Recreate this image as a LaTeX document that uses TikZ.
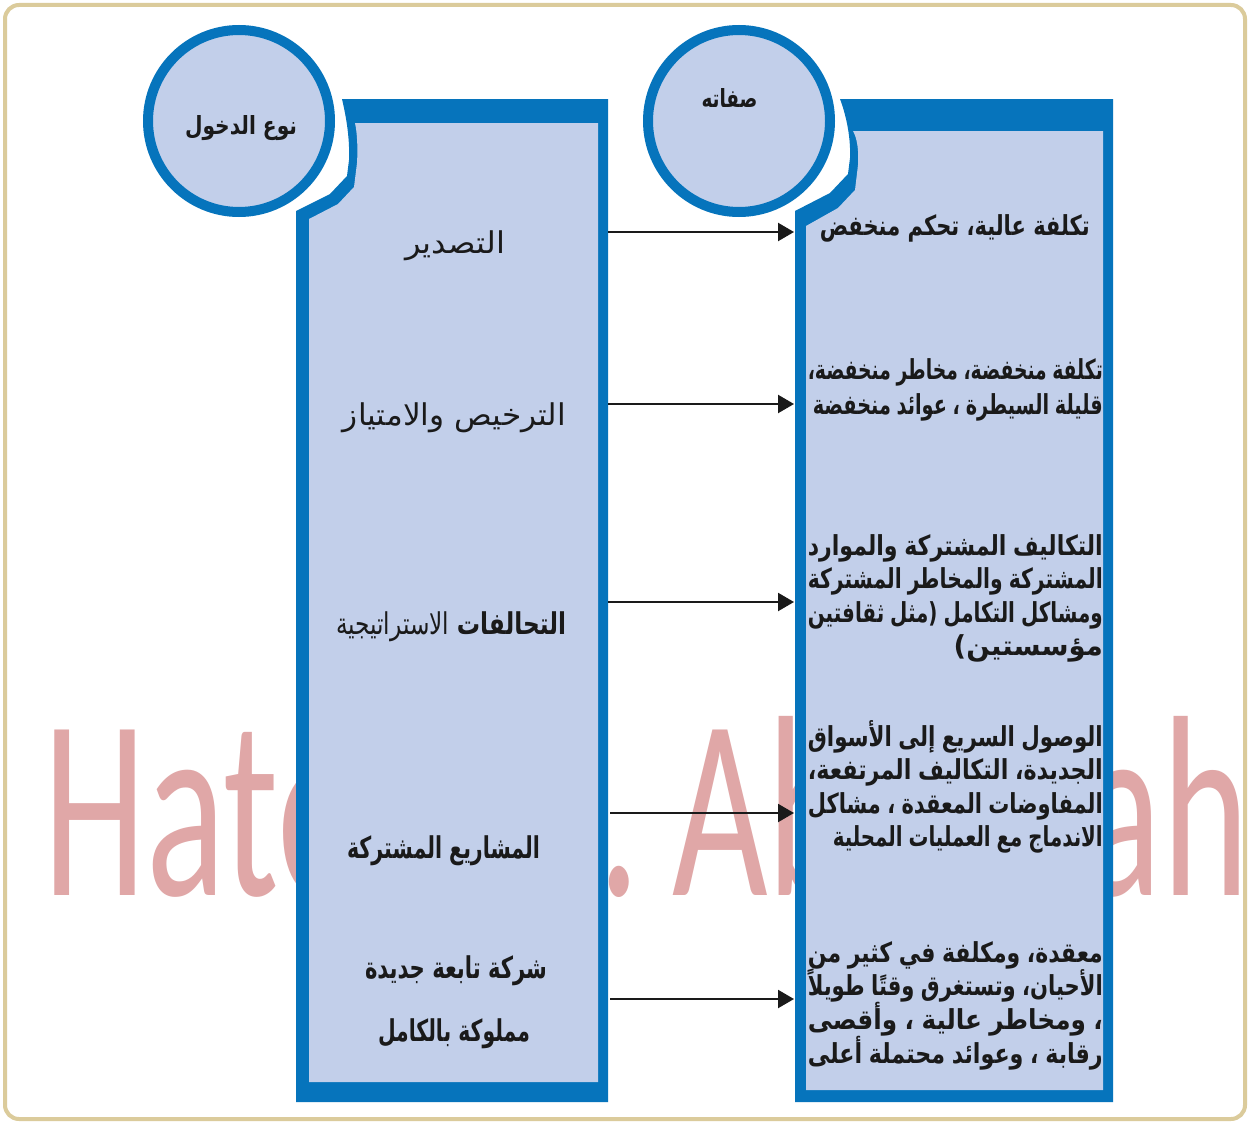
\documentclass[tikz,border=0pt]{standalone}
\usepackage{fontspec}
\usepackage{graphicx}
\usetikzlibrary{arrows.meta}
\TeXXeTstate=1
\newfontfamily\arabicfont[Script=Arabic]{DejaVu Sans}
\newfontfamily\wmfont{Carlito}

\definecolor{panelblue}{HTML}{0674BC}
\definecolor{panelfill}{HTML}{C2CFEA}
\definecolor{framecol}{HTML}{DBCB9B}
\definecolor{wmpink}{HTML}{E0A7A7}
\definecolor{ink}{HTML}{1A1A1A}

% right-to-left run
\newcommand\RL[1]{\beginR #1\endR}
% stretchable word space
\newcommand\wsp{\hskip 0.3em plus 1fill\relax}
\newsavebox\jbox
% line set to an exact width: squeezed if too long, spread if too short
\newcommand\jl[2]{\sbox\jbox{\RL{#2}}\ifdim\wd\jbox>#1\relax\resizebox{#1}{\height}{\usebox\jbox}\else\hbox to #1{\RL{#2}}\fi}
% one line of a description block, flush right in the block
\newcommand\dline[2]{\hbox to 295pt{\hfill\jl{#1}{#2}}}
% single label scaled to a given width
\newcommand\fitw[2]{\resizebox{#1}{\height}{\RL{#2}}}

\tikzset{
  kind/.style={inner sep=0pt, anchor=base, text=ink, font=\arabicfont\fontsize{30}{34}\selectfont},
  kindb/.style={kind, font=\arabicfont\bfseries\fontsize{30}{34}\selectfont},
  desc/.style={inner sep=0pt, anchor=base east, text=ink, font=\arabicfont\bfseries\fontsize{27.5}{30}\selectfont},
  head/.style={inner sep=0pt, anchor=base, text=ink, font=\arabicfont\bfseries\fontsize{25}{28}\selectfont},
  wm/.style={inner sep=0pt, anchor=base west, text=wmpink, font=\wmfont\fontsize{258}{258}\selectfont},
  ring/.style={draw=panelblue, fill=panelfill, line width=10pt},
  conn/.style={draw=ink, line width=2.2pt, -{Triangle[length=16pt,width=18pt]}},
}

\begin{document}
\begin{tikzpicture}[x=1pt,y=-1pt]
\useasboundingbox (0,0) rectangle (1250,1124);
\fill[white] (0,0) rectangle (1250,1124);
\draw[framecol, line width=4pt, rounded corners=14pt] (5,5) rectangle (1245,1119);

% watermark
\node[wm] (wmA) at (43,895) {\scalebox{0.64}[1]{Hate}};
\node[wm] (wmB) at (598,895) {\scalebox{0.64}[1]{.}};
\node[wm] (wmC) at (672,895) {\scalebox{0.64}[1]{Ab}};
\node[wm, anchor=base east] (wmD) at (1249,895) {\scalebox{0.64}[1]{ah}};

% heading circles
\draw[ring] (239,121) circle[radius=91];
\draw[ring] (739,121) circle[radius=91];

% left panel
\fill[panelblue] (342,99) -- (608,99) -- (608,1102) -- (296,1102) -- (296,211)
  -- (330,194) -- (347,176) -- (349,160) .. controls (350,135) and (345,112) .. (342,99) -- cycle;
\fill[panelfill] (355,123) -- (598,123) -- (598,1082) -- (309,1082) -- (309,219)
  -- (338,204) -- (354,187) -- (357,163) .. controls (358,147) and (357,132) .. (355,123) -- cycle;

% right panel
\fill[panelblue] (840,99) -- (1113,99) -- (1113,1102) -- (795,1102) -- (795,211)
  -- (830,193) -- (848,174) -- (850,158) .. controls (851,135) and (845,112) .. (840,99) -- cycle;
\fill[panelfill] (853,131) -- (1103,131) -- (1103,1090) -- (806,1090) -- (806,226)
  -- (838,208) -- (855,190) -- (858,165) .. controls (859,150) and (857,138) .. (853,131) -- cycle;

% circle headings
\node[head] (hk) at (241,134) {\fitw{112pt}{نوع الدخول}};
\node[head] (hd) at (729.5,107) {\fitw{56pt}{صفاته}};

% entry modes
\node[kind] (k1) at (455,253) {\fitw{100pt}{التصدير}};
\node[kind] (k2) at (454.5,425) {\fitw{223pt}{الترخيص والامتياز}};
\node[kind] (k3) at (451,634) {\fitw{230pt}{{\bfseries التحالفات} الاستراتيجية}};
\node[kindb] (k4) at (443.5,858) {\fitw{193pt}{المشاريع المشتركة}};
\node[kindb] (k5) at (456,978) {\fitw{182pt}{شركة تابعة جديدة}};
\node[kindb] (k6) at (454,1041) {\fitw{152pt}{مملوكة بالكامل}};

% characteristics
\node[desc] (d1) at (1090,235) {\fitw{270pt}{تكلفة عالية، تحكم منخفض}};
\node[desc] (d2) at (1103,379) {\vtop{\baselineskip=35pt\lineskiplimit=-1000pt
  \dline{295pt}{تكلفة\wsp منخفضة،\wsp مخاطر\wsp منخفضة،}
  \dline{290pt}{قليلة\wsp السيطرة\wsp ،\wsp عوائد\wsp منخفضة}}};
\node[desc] (d3) at (1103,555) {\vtop{\baselineskip=33.5pt\lineskiplimit=-1000pt
  \dline{295pt}{التكاليف\wsp المشتركة\wsp والموارد}
  \dline{295pt}{المشتركة\wsp والمخاطر\wsp المشتركة}
  \dline{295pt}{ومشاكل\wsp التكامل\wsp \hbox{(}مثل\wsp ثقافتين}
  \hbox to 295pt{\hfill\RL{مؤسستين\hbox{)}}}}};
\node[desc] (d4) at (1103,746) {\vtop{\baselineskip=33.5pt\lineskiplimit=-1000pt
  \dline{295pt}{الوصول\wsp السريع\wsp إلى\wsp الأسواق}
  \dline{295pt}{الجديدة،\wsp التكاليف\wsp المرتفعة،}
  \dline{295pt}{المفاوضات\wsp المعقدة\wsp ،\wsp مشاكل}
  \dline{270pt}{الاندماج\wsp مع\wsp العمليات\wsp المحلية}}};
\node[desc] (d5) at (1103,962) {\vtop{\baselineskip=33.7pt\lineskiplimit=-1000pt
  \dline{295pt}{معقدة،\wsp ومكلفة\wsp في\wsp كثير\wsp من}
  \dline{295pt}{الأحيان،\wsp وتستغرق\wsp وقتًا\wsp طويلاً}
  \dline{295pt}{،\wsp ومخاطر\wsp عالية\wsp ،\wsp وأقصى}
  \dline{295pt}{رقابة\wsp ،\wsp وعوائد\wsp محتملة\wsp أعلى}}};

% connector ends on the panel edges
\coordinate (s1) at (608,232);  \coordinate (e1) at (794,232);
\coordinate (s2) at (608,404);  \coordinate (e2) at (794,404);
\coordinate (s3) at (608,602);  \coordinate (e3) at (794,602);
\coordinate (s4) at (610,813);  \coordinate (e4) at (794,813);
\coordinate (s5) at (610,999);  \coordinate (e5) at (794,999);
\foreach \i in {1,...,5} { \draw[conn] (s\i) -- (e\i); }
\end{tikzpicture}
\end{document}
